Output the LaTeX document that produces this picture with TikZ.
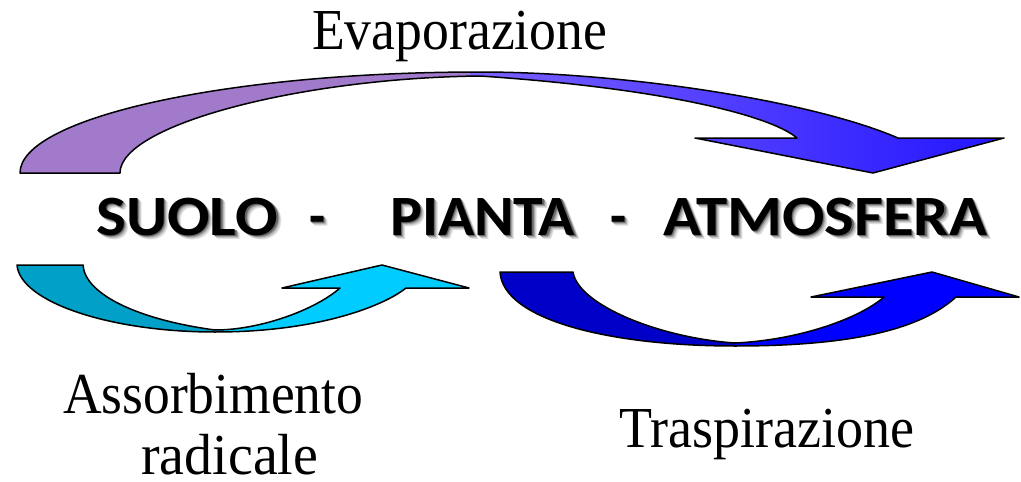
\documentclass[tikz,border=0pt]{standalone}
\usepackage{fontspec}
\usepackage{graphicx}
\setmainfont{Liberation Serif}
\newfontfamily\titlefont{Carlito}
\definecolor{lavender}{RGB}{162,122,204}
\definecolor{evapmid}{RGB}{122,98,255}
\definecolor{evapblue}{RGB}{34,20,255}
\definecolor{cyandark}{RGB}{0,160,200}
\definecolor{cyanlight}{RGB}{0,204,255}
\definecolor{bluedark}{RGB}{0,0,200}
\definecolor{bluelight}{RGB}{0,0,255}
\def\evappath{(20,173) .. controls (20,118) and (226,72) .. (480,72)
 .. controls (620,72) and (810,100) .. (898,138)
 -- (1004,138) -- (873,173) -- (695,138) -- (797,138)
 .. controls (770,115) and (660,88) .. (480,76)
 .. controls (300,78) and (120,125) .. (120,173) -- cycle}
\def\cyanpath{(17,265) .. controls (20,302) and (110,332) .. (215,332)
 .. controls (320,332) and (385,305) .. (406,288)
 -- (469,288) -- (382,265) -- (282,288) -- (340,288)
 .. controls (315,310) and (260,330) .. (215,330)
 .. controls (140,320) and (85,295) .. (83,265) -- cycle}
\def\bluepath{(500,272) .. controls (503,320) and (610,346) .. (735,346)
 .. controls (850,346) and (920,330) .. (956,297)
 -- (1019,297) -- (932,272) -- (811,297) -- (884,297)
 .. controls (860,318) and (800,340) .. (735,343)
 .. controls (660,338) and (578,305) .. (573,272) -- cycle}
% one shadow layer: offset, grey level, width, text
\newcommand\shlayer[4]{\makebox[0pt][l]{\hspace*{#1pt}\raisebox{-#1pt}{\textcolor{black!#2}{\resizebox{#3pt}{\height}{#4}}}}}
\newcommand\shadowed[2]{%
 \shlayer{4.5}{12}{#1}{#2}\shlayer{3.5}{22}{#1}{#2}\shlayer{2.5}{38}{#1}{#2}%
 \shlayer{1.5}{60}{#1}{#2}\resizebox{#1pt}{\height}{#2}}
\begin{document}
\begin{tikzpicture}[x=1pt,y=-1pt,
  arrowline/.style={draw=black,line width=1.5pt,line join=round},
  lbl/.style={inner sep=0pt,anchor=base west,font=\fontsize{58}{68}\selectfont},
  titleword/.style={inner sep=0pt,anchor=base west,font=\titlefont\bfseries\fontsize{57}{66}\selectfont}]
\useasboundingbox (0,0) rectangle (1021,482);
\fill[white] (0,0) rectangle (1021,482);
% Evaporazione arrow
\begin{scope}
 \clip \evappath;
 \fill[lavender] (0,50) rectangle (470,190);
 \shade[left color=evapmid,right color=evapblue] (470,50) rectangle (1010,190);
\end{scope}
\draw[arrowline] \evappath;
% Assorbimento arrow
\begin{scope}
 \clip \cyanpath;
 \fill[cyandark] (0,250) rectangle (215,340);
 \fill[cyanlight] (215,250) rectangle (480,340);
\end{scope}
\draw[arrowline] \cyanpath;
% Traspirazione arrow
\begin{scope}
 \clip \bluepath;
 \fill[bluedark] (490,260) rectangle (735,355);
 \fill[bluelight] (735,260) rectangle (1021,355);
\end{scope}
\draw[arrowline] \bluepath;
% title
\node[titleword] (suolo) at (96,235) {\shadowed{182}{SUOLO}};
\node[titleword] (dasha) at (309,235) {\shadowed{16}{-}};
\node[titleword] (pianta) at (390,235) {\shadowed{185}{PIANTA}};
\node[titleword] (dashb) at (610,235) {\shadowed{16}{-}};
\node[titleword] (atmo) at (663,235) {\shadowed{324}{ATMOSFERA}};
% labels
\node[lbl] (evap) at (312,49) {\resizebox{295pt}{\height}{Evaporazione}};
\node[lbl] (assorb) at (63,413) {\resizebox{300pt}{\height}{Assorbimento}};
\node[lbl] (radic) at (141,474) {\resizebox{177pt}{\height}{radicale}};
\node[lbl] (trasp) at (619,447) {\resizebox{295pt}{\height}{Traspirazione}};
\end{tikzpicture}
\end{document}
